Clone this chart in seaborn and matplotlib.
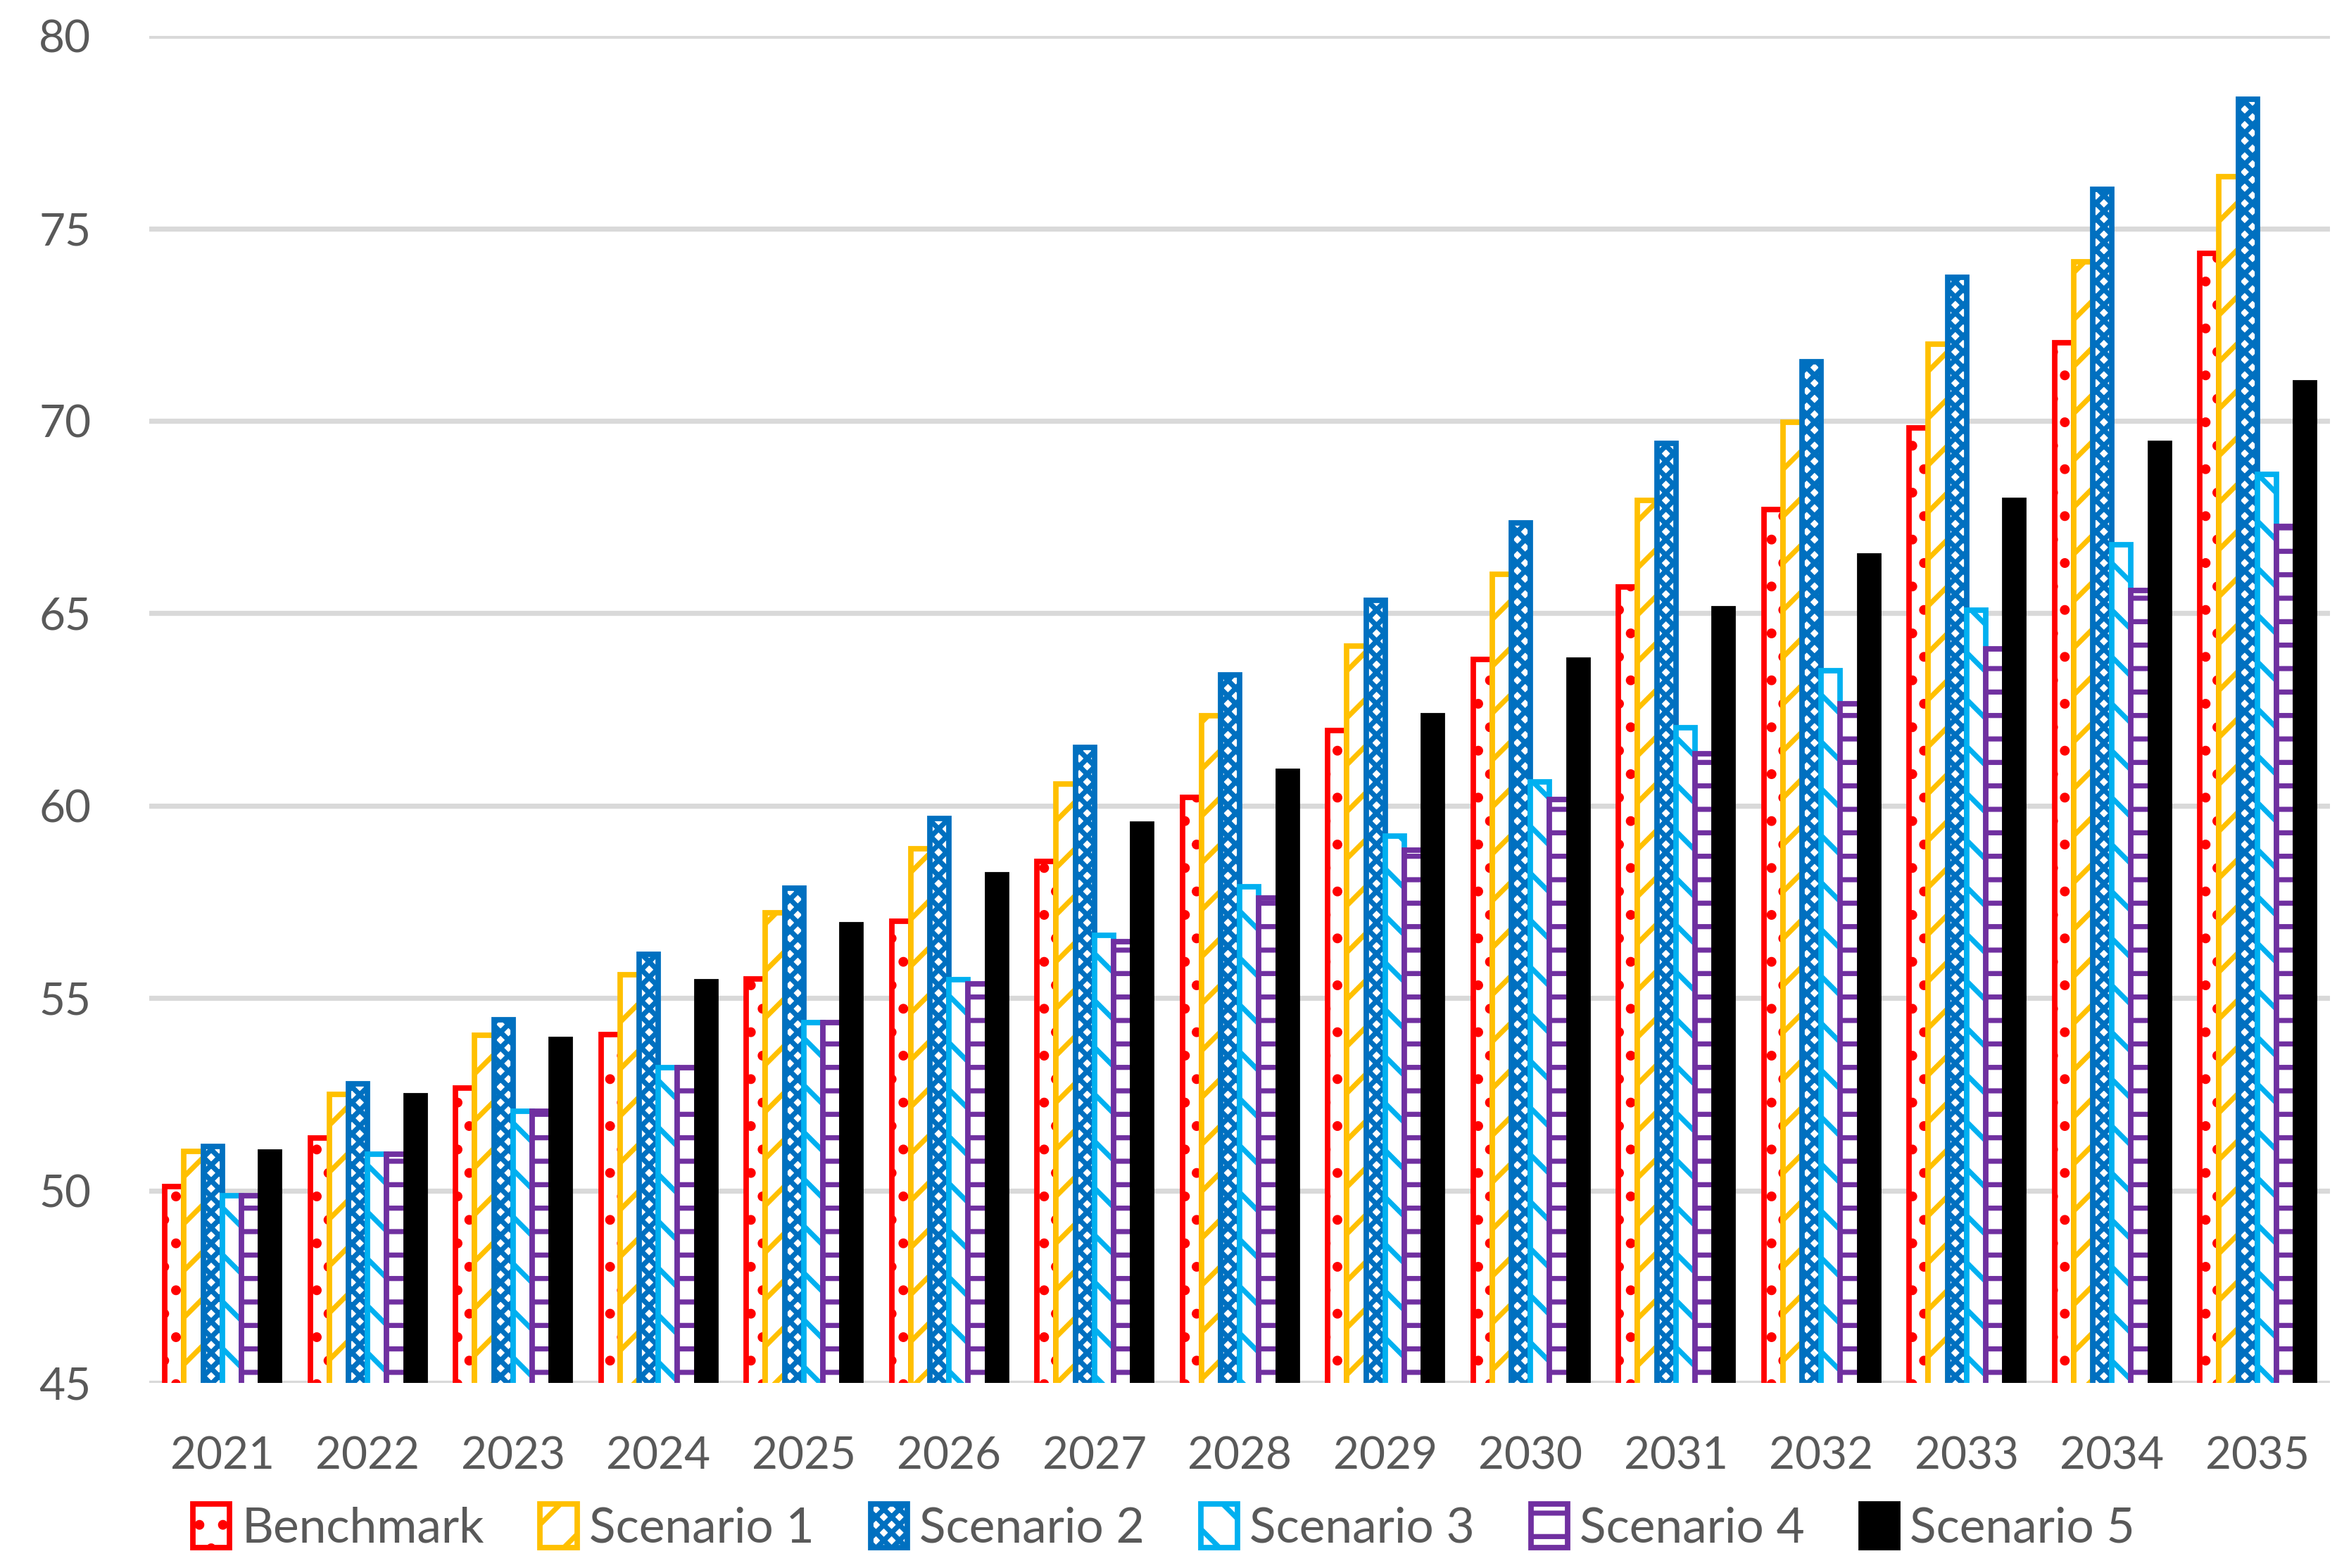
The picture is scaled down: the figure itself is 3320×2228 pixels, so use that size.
import pandas as pd
import matplotlib
matplotlib.use("Agg")
import matplotlib.pyplot as plt
import seaborn as sns

# values
years = [2021, 2022, 2023, 2024, 2025, 2026, 2027, 2028,
         2029, 2030, 2031, 2032, 2033, 2034, 2035]
benchmark = [50.10, 51.36, 52.67, 54.05, 55.49, 56.99, 58.56, 60.22,
             61.95, 63.80, 65.69, 67.70, 69.82, 72.04, 74.36]
scenario_1 = [51.01, 52.50, 54.04, 55.60, 57.21, 58.88, 60.57, 62.33,
              64.15, 66.02, 67.94, 69.96, 71.99, 74.13, 76.34]
scenario_2 = [51.15, 52.77, 54.43, 56.13, 57.86, 59.67, 61.51, 63.40,
              65.33, 67.35, 69.41, 71.53, 73.73, 76.02, 78.35]
scenario_3 = [49.87, 50.95, 52.06, 53.19, 54.37, 55.48, 56.64, 57.89,
              59.21, 60.62, 62.03, 63.51, 65.09, 66.78, 68.61]
scenario_4 = [49.87, 50.95, 52.06, 53.19, 54.37, 55.37, 56.46, 57.61,
              58.84, 60.16, 61.36, 62.65, 64.07, 65.60, 67.26]
scenario_5 = [51.00, 52.47, 53.93, 55.42, 56.90, 58.20, 59.52, 60.89,
              62.33, 63.78, 65.11, 66.49, 67.94, 69.42, 70.99]

series_names = ["Benchmark", "Scenario 1", "Scenario 2",
                "Scenario 3", "Scenario 4", "Scenario 5"]
series_values = [benchmark, scenario_1, scenario_2,
                 scenario_3, scenario_4, scenario_5]
colors = ["#FF0000", "#FFC000", "#0070C0", "#00B0F0", "#7030A0", "#000000"]
hatches = [".", "/", "xxx", "\\", "-", None]

rows = []
for name, vals in zip(series_names, series_values):
    for yr, v in zip(years, vals):
        rows.append({"year": str(yr), "series": name, "value": v})
df = pd.DataFrame(rows)

sns.set_theme(style="white")
plt.rcParams["font.family"] = ["Lato", "DejaVu Sans"]
plt.rcParams["hatch.linewidth"] = 2.6

grey_text = "#595959"
grid_grey = "#D9D9D9"

fig, ax = plt.subplots(figsize=(16.6, 11.14), dpi=200)
fig.subplots_adjust(left=0.064, right=0.997, top=0.977, bottom=0.118)

sns.barplot(data=df, x="year", y="value", hue="series", hue_order=series_names,
            palette=colors, width=0.79, gap=0, ax=ax, legend=False)

for cont, col, h in zip(ax.containers, colors, hatches):
    for bar in cont.patches:
        if h is None:
            bar.set_facecolor(col)
            bar.set_edgecolor(col)
        else:
            bar.set_facecolor("white")
            bar.set_edgecolor(col)
            bar.set_hatch(h)
        bar.set_linewidth(2.8)

ax.set_ylim(45, 80)
ax.set_yticks(range(45, 81, 5))
ax.set_xlim(-0.5, len(years) - 0.5)
ax.yaxis.grid(True, color=grid_grey, linewidth=2.6)
ax.set_axisbelow(True)
for s in ax.spines.values():
    s.set_visible(False)
ax.set_xlabel("")
ax.set_ylabel("")
ax.tick_params(axis="both", length=0, labelsize=23, labelcolor=grey_text)
ax.tick_params(axis="x", pad=27)
ax.tick_params(axis="y", pad=30)

fig.legend(ax.containers, series_names, loc="center", bbox_to_anchor=(0.498, 0.026),
           ncol=6, frameon=False, fontsize=25, labelcolor=grey_text,
           handlelength=0.75, handleheight=1.0, handletextpad=0.25,
           columnspacing=1.15)

fig.savefig("out.png", dpi=200)
plt.close(fig)
